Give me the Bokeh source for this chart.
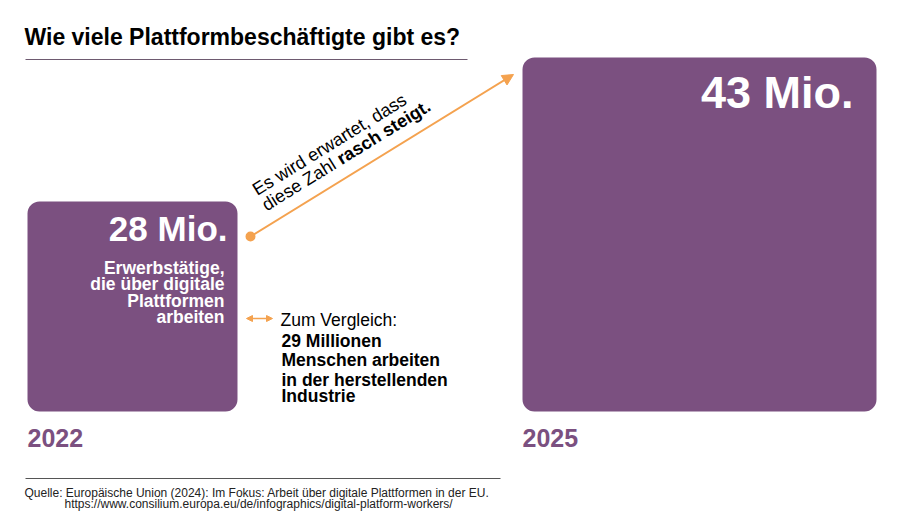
from bokeh.plotting import figure
from bokeh.models import Range1d, ColumnDataSource, Arrow, NormalHead
from bokeh.core.properties import value
from bokeh.embed import file_html
from bokeh.resources import INLINE
import math

# ---------------- data ----------------
title = "Wie viele Plattformbeschäftigte gibt es?"
years = ["2022", "2025"]
values_mio = [28, 43]
value_labels = ["28 Mio.", "43 Mio."]
desc_lines = ["Erwerbstätige,", "die über digitale", "Plattformen", "arbeiten"]
trend_line1 = "Es wird erwartet, dass"
trend_line2_regular = "diese Zahl "
trend_line2_bold = "rasch steigt."
compare_head = "Zum Vergleich:"
compare_lines = ["29 Millionen", "Menschen arbeiten", "in der herstellenden", "Industrie"]
source_lines = [
    "Quelle: Europäische Union (2024): Im Fokus: Arbeit über digitale Plattformen in der EU.",
    "https://www.consilium.europa.eu/de/infographics/digital-platform-workers/",
]

# ---------------- styles / layout ----------------
PURPLE = "#7b5080"
ORANGE = "#f4a24f"
FONT = "Liberation Sans"
W, H = 892, 517
BASE = 411                 # common bottom of the squares (px)
LEFTS = [27, 522]          # left edges (px)
K = 0.36                   # baseline correction (fraction of font size)


def side_px(v):
    # linear size scale: 28 Mio -> 210 px, 43 Mio -> 354 px
    return 210 + (v - 28) * (354 - 210) / (43 - 28)


def bl(y, fs):
    return y - K * fs


p = figure(width=W, height=H, x_range=Range1d(0, W), y_range=Range1d(H, 0),
           output_backend="svg", toolbar_location=None, x_axis_type=None, y_axis_type=None,
           min_border=0, background_fill_color="white", border_fill_color="white")
p.outline_line_color = None
p.grid.visible = False

# squares
sides = [side_px(v) for v in values_mio]
sq = ColumnDataSource(dict(
    left=LEFTS, right=[l + s for l, s in zip(LEFTS, sides)],
    top=[BASE - s for s in sides], bottom=[BASE, BASE]))
p.quad(left="left", right="right", top="top", bottom="bottom", source=sq,
       fill_color=PURPLE, line_color=None, border_radius=12)

# value labels inside squares
p.text(x=[sq.data["right"][0] - 10], y=[bl(241, 35)], text=[value_labels[0]],
       text_font=value(FONT), text_font_style="bold", text_font_size="35px",
       text_color="white", text_align="right", text_baseline="alphabetic")
p.text(x=[sq.data["right"][1] - 23], y=[bl(108, 45)], text=[value_labels[1]],
       text_font=value(FONT), text_font_style="bold", text_font_size="45px",
       text_color="white", text_align="right", text_baseline="alphabetic")

# description inside the small square
p.text(x=[224] * len(desc_lines), y=[bl(v, 17.5) for v in (274, 290, 307, 323)], text=desc_lines,
       text_font=value(FONT), text_font_style="bold", text_font_size="17.5px",
       text_color="white", text_align="right", text_baseline="alphabetic")

# year labels
p.text(x=LEFTS, y=[bl(446, 25)] * 2, text=years, text_font=value(FONT), text_font_style="bold",
       text_font_size="25px", text_color=PURPLE, text_align="left", text_baseline="alphabetic")

# title + rule
p.text(x=[24], y=[bl(45, 23)], text=[title], text_font=value(FONT), text_font_style="bold",
       text_font_size="23px", text_color="black", text_baseline="alphabetic")
p.segment(x0=[25], y0=[59], x1=[467], y1=[59], line_color="#6e5a70", line_width=1)

# trend arrow
x0, y0, x1, y1 = 250, 236, 513, 74
p.add_layout(Arrow(x_start=x0, y_start=y0, x_end=x1, y_end=y1, line_color=ORANGE,
                   line_width=2,
                   end=NormalHead(size=11, fill_color=ORANGE, line_color=ORANGE, line_width=1)))
p.scatter(x=[x0], y=[y0], size=10, fill_color=ORANGE, line_color=None)

# rotated trend text
ang = math.atan2(y0 - y1, x1 - x0)
ux, uy = math.cos(ang), -math.sin(ang)      # along the text (screen, y down)
nx, ny = math.sin(ang), math.cos(ang)       # perpendicular, downwards
fs = 18
sx, sy = 257 - K * fs * nx, 196 - K * fs * ny
p.text(x=[sx], y=[sy], text=[trend_line1], angle=ang, text_font=value(FONT),
       text_font_size=f"{fs}px", text_color="black", text_baseline="alphabetic")
l2x, l2y = sx + 18 * nx, sy + 18 * ny
p.text(x=[l2x], y=[l2y], text=[trend_line2_regular], angle=ang, text_font=value(FONT),
       text_font_size=f"{fs}px", text_color="black", text_baseline="alphabetic")
off = 4.891 * fs
p.text(x=[l2x + off * ux], y=[l2y + off * uy], text=[trend_line2_bold], angle=ang,
       text_font=value(FONT), text_font_style="bold", text_font_size=f"{fs}px",
       text_color="black", text_baseline="alphabetic")

# comparison
p.add_layout(Arrow(x_start=246, y_start=318, x_end=272, y_end=318, line_color=ORANGE,
                   line_width=1.5,
                   start=NormalHead(size=6, fill_color=ORANGE, line_color=ORANGE),
                   end=NormalHead(size=6, fill_color=ORANGE, line_color=ORANGE)))
p.text(x=[280], y=[bl(326, 17.5)], text=[compare_head], text_font=value(FONT),
       text_font_size="17.5px", text_color="black", text_baseline="alphabetic")
p.text(x=[281] * 4, y=[bl(v, 17.5) for v in (347, 366, 386, 402)], text=compare_lines,
       text_font=value(FONT), text_font_style="bold", text_font_size="17.5px",
       text_color="black", text_baseline="alphabetic")

# source
p.segment(x0=[25], y0=[478], x1=[500], y1=[478], line_color="#555555", line_width=1)
p.text(x=[24, 64], y=[bl(497, 12), bl(508, 12)], text=source_lines, text_font=value(FONT),
       text_font_size="12px", text_color="#222222", text_baseline="alphabetic")

open("out.html", "w").write(file_html(p, INLINE))
